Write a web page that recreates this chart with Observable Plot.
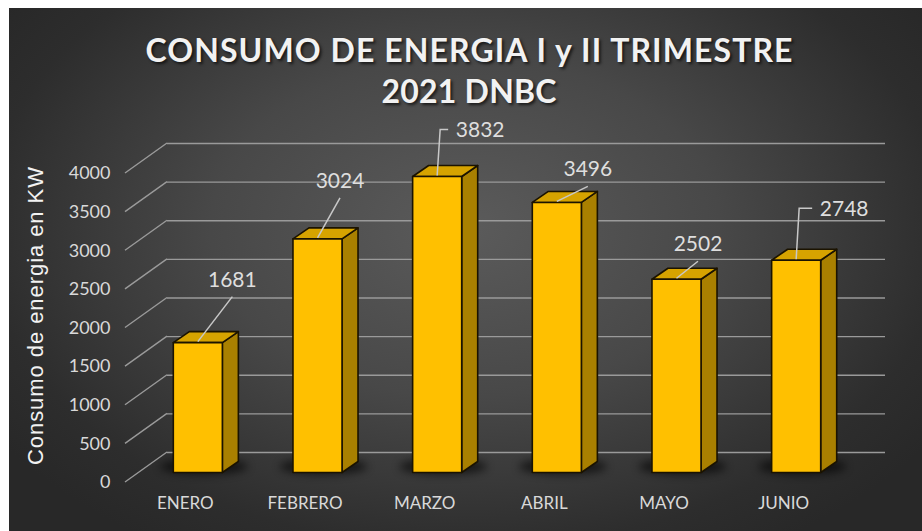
<!DOCTYPE html>
<html>
<head>
<meta charset="utf-8">
<script src="https://cdn.jsdelivr.net/npm/d3@7"></script>
<script src="https://cdn.jsdelivr.net/npm/@observablehq/plot@0.6"></script>
<style>
  html, body { margin: 0; padding: 0; background: #ffffff; }
  #wrap { position: relative; width: 922px; height: 531px; overflow: hidden; background: #ffffff; }
  #bg { position: absolute; left: 9px; top: 8px; right: 0; bottom: 0;
        background: radial-gradient(ellipse 62% 72% at 50% 42%, #5b5b5b 0%, #484848 45%, #2d2d2d 85%, #282828 100%); }
  #chart { position: absolute; left: 0; top: 0; }
  #title { position: absolute; left: 16px; right: 0; top: 29px; text-align: center;
           font-family: Lato, "Open Sans", sans-serif; font-weight: 700; font-size: 32px; line-height: 41px;
           color: #f2f2f2; text-shadow: 2px 2px 3px rgba(0,0,0,0.65); white-space: nowrap; }
</style>
</head>
<body>
<div id="wrap">
  <div id="bg"></div>
  <div id="chart"></div>
  <div id="title"><div><span id="t1"></span></div><div><span id="t2"></span></div></div>
</div>
<script>
// ---------- data ----------
const titleLines = ["CONSUMO DE ENERGIA I y II TRIMESTRE", "2021 DNBC"];
const yTitle = "Consumo de energia en KW";
const months = ["ENERO", "FEBRERO", "MARZO", "ABRIL", "MAYO", "JUNIO"];
const consumo = [1681, 3024, 3832, 3496, 2502, 2748];
const yTicks = [0, 500, 1000, 1500, 2000, 2500, 3000, 3500, 4000];

// ---------- label placement (as in the reference) ----------
const labelShift = [[34.5, -56], [22.5, -51], [43, -39], [31, -26], [21.5, -28], [48, -44]];
const leaderKind = ["slant", "slant", "elbow", "slant", "slant", "elbow"];

const rows = months.map((m, i) => ({mes: m, valor: consumo[i], shift: labelShift[i], leader: leaderKind[i]}));

// ---------- 3D geometry (pixels) ----------
const WALL = {dx: 42, dy: -30};
const BAR = {dx: 16, dy: -11, frac: 0.41};
const OFF = {dx: (WALL.dx - BAR.dx) / 2, dy: (WALL.dy - BAR.dy) / 2};
const M = {left: 125, right: 79, top: 173, bottom: 49};

function findScales(args) {
  for (const a of args) if (a && typeof a.x === "function" && typeof a.y === "function") return a;
  return null;
}

// side-wall slanted gridlines
function sideWall() {
  const S = findScales(arguments);
  const g = d3.create("svg:g");
  yTicks.forEach(t => {
    const y0 = S.y(t);
    g.append("line").attr("x1", M.left).attr("y1", y0)
      .attr("x2", M.left + WALL.dx).attr("y2", y0 + WALL.dy)
      .attr("stroke", "#9a9a9a").attr("stroke-width", 1.4);
  });
  return g.node();
}

// bars drawn as 3D boxes
function bars3d() {
  const S = findScales(arguments);
  const step = S.x(months[1]) - S.x(months[0]);
  const w = step * BAR.frac;
  const g = d3.create("svg:g");
  const defs = g.append("defs");
  defs.append("filter").attr("id", "shblur").attr("x", "-50%").attr("y", "-100%").attr("width", "200%").attr("height", "300%")
    .append("feGaussianBlur").attr("stdDeviation", 4.5);
  rows.forEach(d => {
    const cx = S.x(d.mes) + OFF.dx;
    const yb = S.y(0) + OFF.dy;
    g.append("ellipse").attr("cx", cx + 6).attr("cy", yb - 6).attr("rx", 44).attr("ry", 8)
      .attr("fill", "#000").attr("opacity", 0.6).attr("filter", "url(#shblur)");
  });
  rows.forEach(d => {
    const cx = S.x(d.mes) + OFF.dx;
    const x0 = cx - w / 2, x1 = cx + w / 2;
    const yb = S.y(0) + OFF.dy, yt = S.y(d.valor) + OFF.dy;
    const st = {stroke: "#1b1300", "stroke-width": 1.6, "stroke-linejoin": "round"};
    const poly = (pts, fill) => {
      const p = g.append("polygon").attr("points", pts.map(q => q.join(",")).join(" ")).attr("fill", fill);
      for (const k in st) p.attr(k, st[k]);
    };
    poly([[x1, yb], [x1, yt], [x1 + BAR.dx, yt + BAR.dy], [x1 + BAR.dx, yb + BAR.dy]], "#a98000");
    poly([[x0, yt], [x1, yt], [x1 + BAR.dx, yt + BAR.dy], [x0 + BAR.dx, yt + BAR.dy]], "#d6a300");
    poly([[x0, yb], [x1, yb], [x1, yt], [x0, yt]], "#ffc000");
  });
  return g.node();
}

// value labels with leader lines
function valueLabels() {
  const S = findScales(arguments);
  const g = d3.create("svg:g");
  rows.forEach(d => {
    const ax = S.x(d.mes) + OFF.dx;
    const ay = S.y(d.valor) + OFF.dy - 1;
    const tx = ax + d.shift[0], ty = ay + 1 + d.shift[1];
    let pts;
    if (d.leader === "slant") {
      pts = [[tx, ty + 10], [ax, ay]];
    } else {
      const left = tx - 25;
      pts = [[left - 7, ty - 8], [ax + 3, ty - 8], [ax, ay]];
    }
    g.append("polyline").attr("points", pts.map(q => q.join(",")).join(" "))
      .attr("fill", "none").attr("stroke", "#c8c8c8").attr("stroke-width", 1.5);
    g.append("text").attr("x", tx).attr("y", ty).attr("text-anchor", "middle")
      .attr("font-family", "Lato, 'Open Sans', sans-serif").attr("font-size", 21)
      .attr("fill", "#dedede").text(String(d.valor));
  });
  return g.node();
}

// rotated y-axis title, centred on the plot frame
function axisTitle() {
  const S = findScales(arguments);
  const cy = (S.y(0) + S.y(4000)) / 2 - 11.5;
  const g = d3.create("svg:g");
  g.append("text").attr("transform", `translate(${M.left - 90},${cy}) rotate(-90)`)
    .attr("text-anchor", "middle").attr("dy", "0.35em")
    .attr("font-family", "'Liberation Sans', Arial, sans-serif").attr("font-size", 22)
    .attr("fill", "#f2f2f2").attr("textLength", 298).attr("lengthAdjust", "spacing")
    .text(yTitle);
  return g.node();
}

const plot = Plot.plot({
  width: 922,
  height: 531,
  marginLeft: M.left,
  marginRight: M.right,
  marginTop: M.top,
  marginBottom: M.bottom,
  style: {background: "transparent", color: "#d9d9d9", overflow: "visible"},
  x: {type: "point", domain: months, padding: 0.5, align: 0.5, round: false, axis: null},
  y: {domain: [0, 4000], axis: null},
  marks: [
    Plot.ruleY(yTicks, {y: d => d, dx: WALL.dx, dy: WALL.dy, stroke: "#9a9a9a", strokeWidth: 1.4}),
    sideWall,
    bars3d,
    valueLabels,
    Plot.text(yTicks, {y: d => d, text: d => String(d), frameAnchor: "left", dx: -15, textAnchor: "end",
      fontSize: 18, fontFamily: "Lato, 'Open Sans', sans-serif", fill: "#d9d9d9"}),
    Plot.text(months, {x: d => d, text: d => d, frameAnchor: "bottom", dy: 26,
      fontSize: 17, fontFamily: "Lato, 'Open Sans', sans-serif", fill: "#d9d9d9"}),
    axisTitle
  ]
});
document.getElementById("chart").appendChild(plot);

// title text fitted to the reference widths
function fit(el, text, target) {
  el.textContent = text;
  el.style.letterSpacing = "0px";
  const w = el.getBoundingClientRect().width;
  const ls = (target - w) / (text.length - 1);
  el.style.letterSpacing = ls + "px";
  el.style.marginRight = (-ls) + "px";
}
fit(document.getElementById("t1"), titleLines[0], 647);
fit(document.getElementById("t2"), titleLines[1], 175);
</script>
</body>
</html>
